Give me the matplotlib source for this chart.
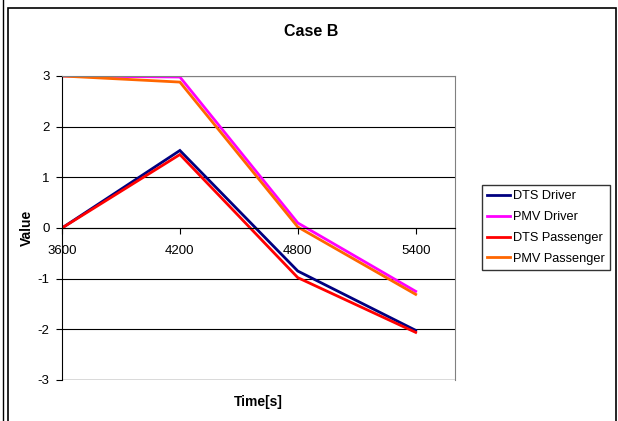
import matplotlib
matplotlib.use("Agg")
import matplotlib.pyplot as plt
from matplotlib.patches import Rectangle

plt.rcParams['font.family'] = ['Liberation Sans', 'DejaVu Sans']

time = [3600, 4200, 4800, 5400]
dts_driver = [0.0, 1.53, -0.85, -2.02]
pmv_driver = [3.0, 2.98, 0.10, -1.25]
dts_passenger = [0.0, 1.45, -0.98, -2.06]
pmv_passenger = [3.0, 2.88, 0.02, -1.31]
series_names = ["DTS Driver", "PMV Driver", "DTS Passenger", "PMV Passenger"]
colors = ["#000080", "#FF00FF", "#FF0000", "#FF6600"]
xticks = [3600, 4200, 4800, 5400]
yticks = [-3, -2, -1, 0, 1, 2, 3]

fig = plt.figure(figsize=(6.18, 4.21), dpi=100)
fig.patch.set_facecolor('white')

# outer borders
fig.add_artist(Rectangle((8/618, -0.01), (616-8)/618, 1.01 - 8/421, transform=fig.transFigure,
                         fill=False, edgecolor='black', linewidth=1.2))
fig.add_artist(plt.Line2D([3/618, 3/618], [0, 1], transform=fig.transFigure, color='black', linewidth=1.0))

ax = fig.add_axes([62/618, 1 - 380/421, 393/618, (380-76)/421])
ax.spines['bottom'].set_position(('data', 0))

for vals, name, c in zip([dts_driver, pmv_driver, dts_passenger, pmv_passenger], series_names, colors):
    ax.plot(time, vals, color=c, linewidth=2.0, label=name, solid_joinstyle='miter')

ax.set_xlim(3600, 5600)
ax.set_ylim(-3, 3)
ax.set_xticks(xticks)
ax.set_yticks(yticks)
ax.set_xticklabels([str(t) for t in xticks], fontsize=9.5)
ax.set_yticklabels([str(v) for v in yticks], fontsize=9.5)
ax.grid(axis='y', color='black', linewidth=0.8)
ax.set_axisbelow(True)

ax.spines['bottom'].set_color('black')
ax.spines['left'].set_color('black')
ax.spines['top'].set_color('#808080')
ax.spines['right'].set_color('#808080')
ax.add_artist(plt.Line2D([0, 1], [0, 0], transform=ax.transAxes, color='#808080', linewidth=1.0))
ax.tick_params(axis='x', direction='out', length=4, pad=8)
ax.tick_params(axis='y', direction='out', length=4, pad=5)

fig.text(311/618, 1 - 32/421, "Case B", ha='center', va='center', fontsize=11.5, fontweight='bold')
fig.text(27/618, 1 - 228/421, "Value", ha='center', va='center', rotation=90, fontsize=10, fontweight='bold')
fig.text(258/618, 1 - 402/421, "Time[s]", ha='center', va='center', fontsize=10, fontweight='bold')

leg = fig.legend(loc='upper left', bbox_to_anchor=(482/618, 1 - 185/421), fontsize=9.2,
                 frameon=True, fancybox=False, handlelength=1.8, handletextpad=0.25,
                 borderpad=0.4, labelspacing=0.7, borderaxespad=0)
leg.get_frame().set_edgecolor('black')
leg.get_frame().set_linewidth(1.0)

fig.savefig("out.png", dpi=100)
